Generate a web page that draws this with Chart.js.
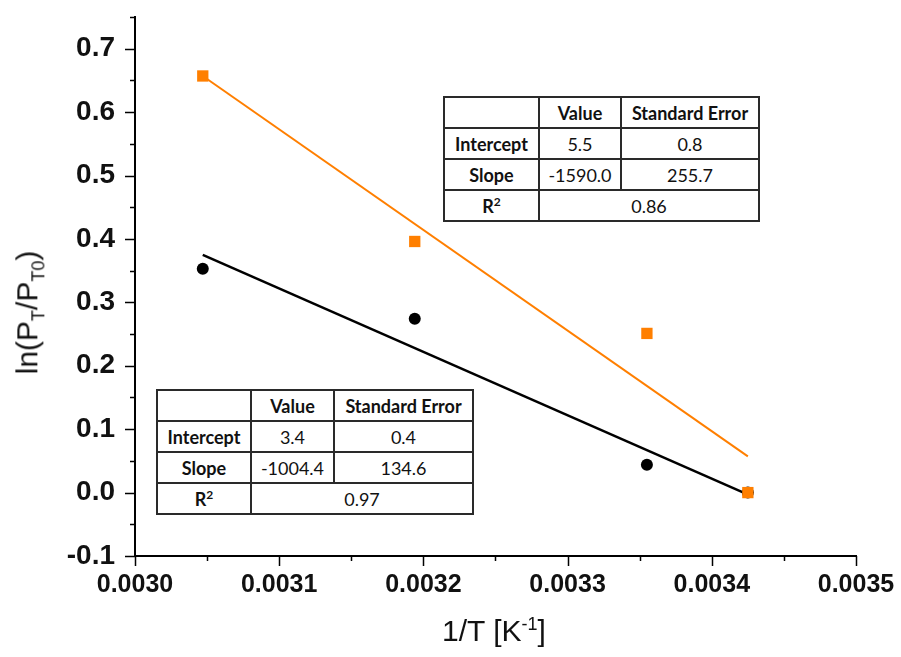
<!DOCTYPE html>
<html>
<head>
<meta charset="utf-8">
<script src="https://cdn.jsdelivr.net/npm/chart.js@4"></script>
<style>
  html, body { margin: 0; padding: 0; background: #fff; }
  #wrap { position: relative; width: 901px; height: 657px; }
  canvas { position: absolute; left: 0; top: 0; }
  .fit-table {
    position: absolute;
    border-collapse: collapse;
    table-layout: fixed;
    font-family: Lato, "Open Sans", sans-serif;
    font-size: 18px;
    color: #111;
    background: #fff;
  }
  .fit-table td {
    border: 2px solid #2a2a2a;
    height: 29px;
    padding: 0;
    text-align: center;
    vertical-align: middle;
  }
  .fit-table .b { font-weight: bold; }
  .axis-title {
    position: absolute;
    font-family: "Liberation Sans", Arial, sans-serif;
    font-size: 30px;
    color: #111;
    white-space: nowrap;
  }
  .axis-title sub, .axis-title sup { font-size: 18px; }
</style>
</head>
<body>
<div id="wrap">
  <canvas id="myChart" width="901" height="657"></canvas>

  <!-- tabella fit serie arancione -->
  <table class="fit-table" style="left:443px; top:96px; width:315px;">
    <colgroup><col style="width:95px"><col style="width:82px"><col style="width:138px"></colgroup>
    <tr><td></td><td class="b">Value</td><td class="b">Standard Error</td></tr>
    <tr><td class="b">Intercept</td><td>5.5</td><td>0.8</td></tr>
    <tr><td class="b">Slope</td><td>-1590.0</td><td>255.7</td></tr>
    <tr><td class="b">R<sup style="font-size:12px">2</sup></td><td colspan="2">0.86</td></tr>
  </table>

  <!-- tabella fit serie nera -->
  <table class="fit-table" style="left:156px; top:389px; width:316px;">
    <colgroup><col style="width:94px"><col style="width:83px"><col style="width:139px"></colgroup>
    <tr><td></td><td class="b">Value</td><td class="b">Standard Error</td></tr>
    <tr><td class="b">Intercept</td><td>3.4</td><td>0.4</td></tr>
    <tr><td class="b">Slope</td><td>-1004.4</td><td>134.6</td></tr>
    <tr><td class="b">R<sup style="font-size:12px">2</sup></td><td colspan="2">0.97</td></tr>
  </table>

  <div class="axis-title" id="yTitle">ln(P<sub>T</sub>/P<sub>T0</sub>)</div>
  <div class="axis-title" id="xTitle">1/T [K<sup>-1</sup>]</div>
</div>

<script>
// Dati
const invT = [0.003047, 0.003194, 0.003355, 0.003425];
const lnOrange = [0.657, 0.396, 0.251, 0.0];
const lnBlack = [0.353, 0.274, 0.044, 0.0];

// Estremi delle rette di fit
const fitOrangeX = [0.003047, 0.003425];
const fitOrangeY = [0.657, 0.057];
const fitBlackX = [0.003047, 0.003422];
const fitBlackY = [0.375, 0.0];

const orange = '#ff7f00';

function toPoints(xs, ys) {
    return xs.map((x, i) => ({ x: x, y: ys[i] }));
}

// Tick maggiori e minori disegnati a mano (Chart.js non ha i minor tick)
const tickPlugin = {
    id: 'outerTicks',
    afterDraw(chart) {
        const c = chart.ctx;
        const xs = chart.scales.x;
        const ys = chart.scales.y;
        c.save();
        c.strokeStyle = '#000';
        c.lineWidth = 1.5;
        c.beginPath();
        ys.ticks.forEach(t => {
            const py = Math.round(ys.getPixelForValue(t.value)) + 0.5;
            const len = t.label !== '' ? 10 : 5;
            c.moveTo(chart.chartArea.left, py);
            c.lineTo(chart.chartArea.left - len, py);
        });
        xs.ticks.forEach(t => {
            const px = Math.round(xs.getPixelForValue(t.value)) + 0.5;
            const len = t.label !== '' ? 10 : 5;
            c.moveTo(px, chart.chartArea.bottom);
            c.lineTo(px, chart.chartArea.bottom + len);
        });
        c.stroke();
        c.restore();
    }
};

const ctx = document.getElementById('myChart');

const graph = new Chart(ctx, {
    type: 'scatter',
    data: {
        datasets: [
            {
                label: 'orange',
                data: toPoints(invT, lnOrange),
                pointStyle: 'rect',
                pointRadius: 8,
                backgroundColor: orange,
                borderColor: orange,
                borderWidth: 0,
                order: 0
            },
            {
                label: 'orange fit',
                data: toPoints(fitOrangeX, fitOrangeY),
                showLine: true,
                pointRadius: 0,
                borderColor: orange,
                borderWidth: 2,
                order: 1
            },
            {
                label: 'black',
                data: toPoints(invT, lnBlack),
                pointStyle: 'circle',
                pointRadius: 6,
                backgroundColor: '#000',
                borderColor: '#000',
                borderWidth: 0,
                order: 2
            },
            {
                label: 'black fit',
                data: toPoints(fitBlackX, fitBlackY),
                showLine: true,
                pointRadius: 0,
                borderColor: '#000',
                borderWidth: 2.5,
                order: 3
            }
        ]
    },
    options: {
        responsive: false,
        animation: false,
        layout: {
            padding: { top: 17, left: 0, right: 0, bottom: 0 }
        },
        plugins: {
            legend: { display: false },
            tooltip: { enabled: false }
        },
        scales: {
            x: {
                type: 'linear',
                min: 0.003,
                max: 0.0035,
                afterFit(scale) {
                    scale.height = 101;
                    scale.paddingRight = 45;
                    scale.paddingLeft = 0;
                },
                border: { display: true, color: '#000', width: 2 },
                grid: { drawOnChartArea: false, drawTicks: true, tickLength: 10, color: 'rgba(0,0,0,0)' },
                ticks: {
                    stepSize: 0.00005,
                    autoSkip: false,
                    maxRotation: 0,
                    padding: 4,
                    color: '#111',
                    font: { family: 'Liberation Sans, Arial, sans-serif', size: 25, weight: 'bold' },
                    callback: function (v) {
                        const k = Math.round(v / 0.00005);
                        return k % 2 === 0 ? (k * 0.00005).toFixed(4) : '';
                    }
                }
            },
            y: {
                type: 'linear',
                min: -0.1,
                max: 0.75,
                afterFit(scale) {
                    scale.width = 135;
                    scale.paddingTop = 0;
                    scale.paddingBottom = 0;
                },
                border: { display: true, color: '#000', width: 2 },
                grid: { drawOnChartArea: false, drawTicks: true, tickLength: 10, color: 'rgba(0,0,0,0)' },
                ticks: {
                    stepSize: 0.05,
                    autoSkip: false,
                    maxTicksLimit: 100,
                    padding: 10,
                    color: '#111',
                    font: { family: 'Liberation Sans, Arial, sans-serif', size: 28, weight: 'bold' },
                    callback: function (v) {
                        const k = Math.round(v / 0.05);
                        return k % 2 === 0 ? (k * 0.05).toFixed(1) : '';
                    }
                }
            }
        }
    },
    plugins: [tickPlugin]
});

// Posiziono i titoli degli assi
const xTitle = document.getElementById('xTitle');
xTitle.style.left = (494 - xTitle.offsetWidth / 2) + 'px';
xTitle.style.top = '614px';

const yTitle = document.getElementById('yTitle');
yTitle.style.left = (30 - yTitle.offsetWidth / 2) + 'px';
yTitle.style.top = (312 - yTitle.offsetHeight / 2) + 'px';
yTitle.style.transform = 'rotate(-90deg)';
</script>
</body>
</html>
